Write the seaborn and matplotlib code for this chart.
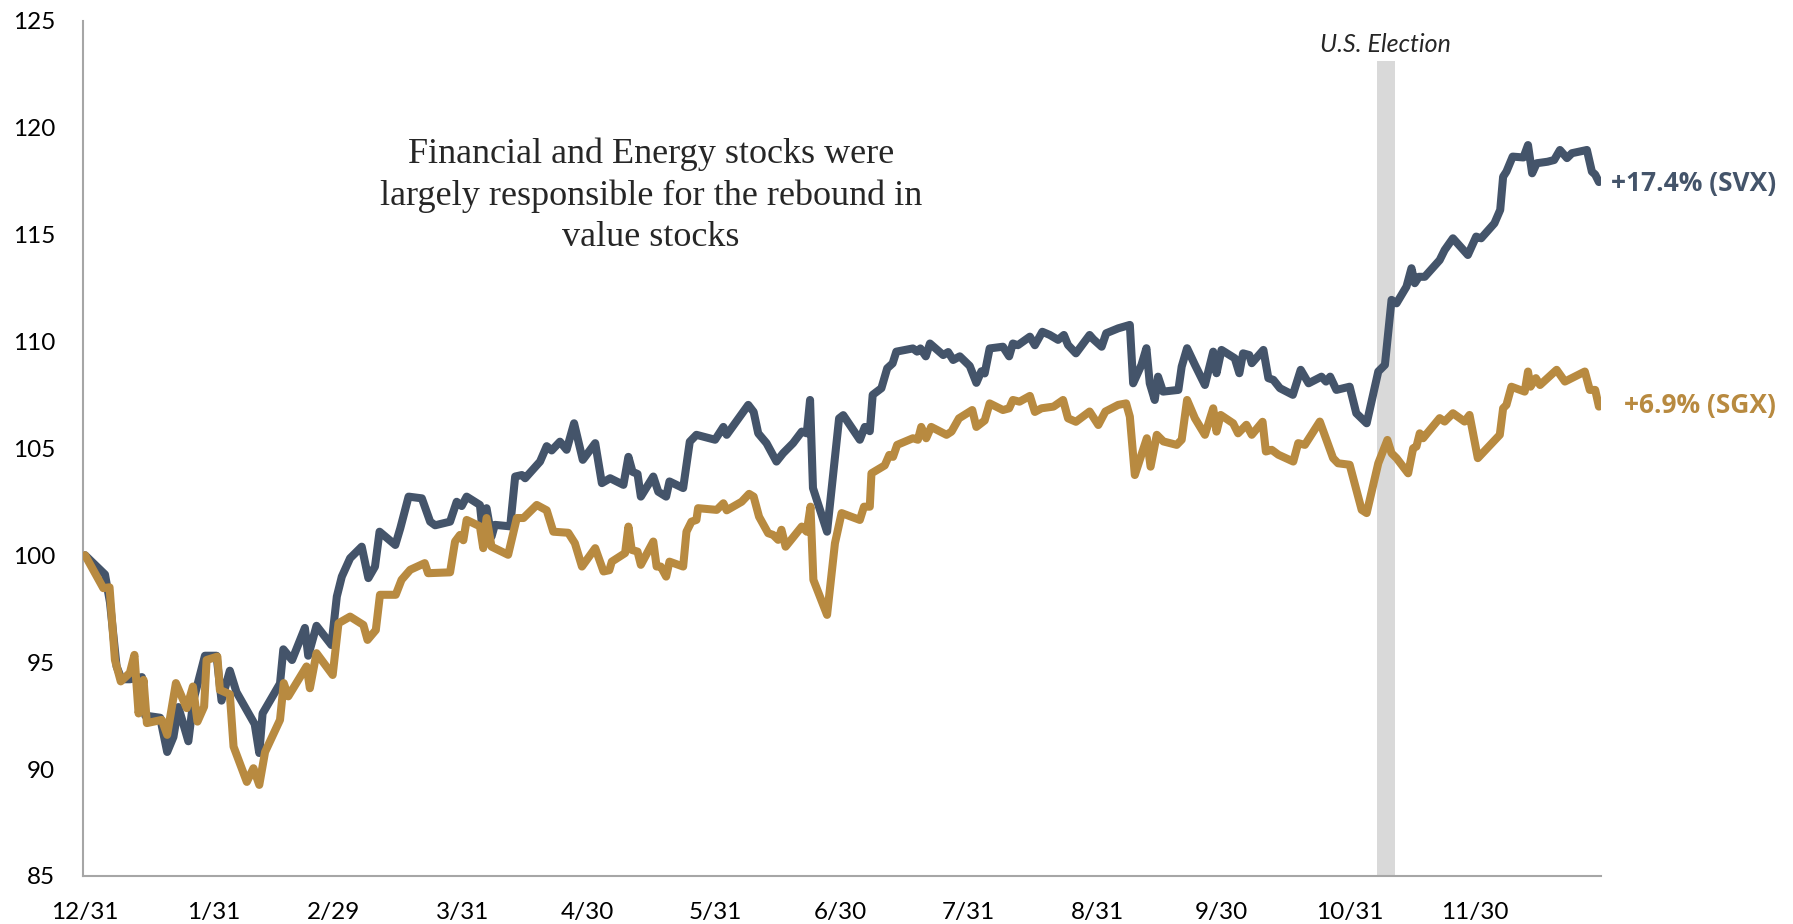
import numpy as np
import pandas as pd
import matplotlib
matplotlib.use("Agg")
import matplotlib.pyplot as plt
import seaborn as sns

# ---------------- data (day offset from 2015-12-31, index level) ----------------
svx_days = [0, 4.8, 6.0, 7.6, 8.8, 10.8, 13.7, 14.5, 18.1, 19.8, 21.3, 22.5, 24.9, 26.1, 28.9, 31.7,
            32.9, 34.9, 36.5, 40.9, 42.0, 42.8, 47.0, 47.8, 49.9, 53.0, 53.8, 55.8, 59.4, 60.7, 61.9,
            63.9, 66.7, 68.3, 69.9, 71.0, 74.8, 76.0, 78.0, 81.2, 83.2, 84.4, 88.0, 89.6, 90.8, 92.0,
            95.2, 96.0, 96.8, 98.0, 98.8, 102.5, 103.7, 105.3, 106.1, 109.7, 111.3, 112.5, 114.5, 116.1,
            117.9, 120.0, 123.0, 124.6, 126.6, 129.8, 131.0, 132.0, 133.2, 134.0, 137.0, 138.2, 140.1,
            140.9, 144.2, 145.8, 147.4, 151.9, 153.9, 154.7, 159.9, 161.2, 162.3, 164.3, 166.7, 168.3,
            170.7, 172.8, 174.0, 174.8, 175.5, 178.9, 181.8, 182.8, 186.8, 188.0, 189.2, 189.9, 192.0,
            193.4, 194.7, 195.6, 199.6, 200.6, 201.4, 202.7, 203.7, 206.9, 208.1, 209.3, 210.9, 213.3,
            214.9, 216.1, 216.9, 218.1, 221.3, 222.8, 223.7, 224.9, 227.8, 229.0, 230.8, 232.6, 234.6,
            236.0, 237.0, 238.9, 242.2, 243.1, 245.1, 246.2, 249.1, 251.9, 252.7, 254.7, 255.9, 256.7,
            257.9, 258.7, 259.9, 263.6, 264.4, 265.7, 267.6, 270.0, 272.0, 272.8, 274.0, 277.2, 278.3,
            279.2, 280.7, 281.3, 284.1, 285.3, 286.5, 288.1, 291.2, 293.1, 295.0, 298.1, 299.2, 300.2,
            301.7, 304.9, 306.5, 309.0, 311.8, 313.4, 315.0, 316.2, 318.6, 319.8, 320.6, 321.6, 323.0,
            326.6, 327.8, 329.8, 333.4, 335.4, 336.6, 339.8, 341.2, 341.9, 342.7, 344.2, 346.8, 347.9,
            348.9, 350.0, 352.6, 354.2, 355.6, 357.3, 358.5, 362.1, 363.3, 364.1, 365.0]
svx_vals = [100.0, 99.1, 97.8, 94.8, 94.2, 94.2, 94.3, 92.5, 92.4, 90.8, 91.5, 92.9, 91.3, 93.2, 95.3, 95.3,
            93.2, 94.6, 93.6, 92.1, 90.75, 92.6, 94.0, 95.6, 95.1, 96.6, 95.3, 96.7, 95.8, 98.07, 99.0,
            99.86, 100.4, 98.93, 99.47, 101.1, 100.48, 101.26, 102.74, 102.66, 101.57, 101.4, 101.57, 102.5, 102.3, 102.74,
            102.35, 100.87, 102.2, 100.87, 101.42, 101.35, 103.68, 103.75, 103.6, 104.38, 105.1, 104.9, 105.31, 104.93,
            106.17, 104.46, 105.24, 103.37, 103.6, 103.29, 104.6, 103.9, 103.8, 102.74, 103.68, 102.97, 102.74,
            103.45, 103.14, 105.31, 105.63, 105.4, 106.0, 105.63, 107.03, 106.7, 105.7, 105.24, 104.38, 104.77,
            105.24, 105.78, 105.7, 107.26, 103.14, 101.1, 106.4, 106.55, 105.4, 106.0, 105.8, 107.5, 107.81,
            108.74, 108.97, 109.52, 109.67, 109.52, 109.67, 109.3, 109.9, 109.36, 109.5, 109.13, 109.3, 108.85,
            108.06, 108.6, 108.5, 109.67, 109.75, 109.3, 109.9, 109.82, 110.22, 109.82, 110.45, 110.3, 110.07,
            110.3, 109.83, 109.44, 110.3, 110.1, 109.75, 110.38, 110.61, 110.77, 108.04, 108.9, 109.68, 108.04,
            107.26, 108.35, 107.65, 107.73, 108.82, 109.68, 108.9, 107.96, 109.52, 108.51, 109.6, 109.21, 108.51,
            109.44, 109.36, 108.98, 109.6, 108.28, 108.2, 107.81, 107.5, 108.67, 108.04, 108.35, 108.12, 108.35,
            107.73, 107.88, 106.64, 106.17, 108.59, 108.9, 111.94, 111.78, 112.56, 113.42, 112.72, 113.02, 113.02,
            113.8, 114.27, 114.82, 114.04, 114.9, 114.82, 115.52, 116.15, 117.7, 117.94, 118.64, 118.6, 119.18,
            117.86, 118.33, 118.4, 118.48, 118.95, 118.57, 118.8, 118.95, 117.94, 117.8, 117.45]

sgx_days = [0, 4.4, 5.9, 7.2, 8.6, 10.8, 11.9, 12.9, 14.1, 14.9, 18.5, 19.8, 21.9, 24.5, 26.0, 27.1, 28.7,
            29.3, 31.9, 32.5, 34.9, 35.8, 39.0, 40.6, 42.0, 43.4, 47.0, 47.9, 49.0, 53.4, 54.2, 55.8, 59.7,
            61.1, 63.9, 67.1, 68.1, 70.1, 71.1, 74.9, 76.3, 78.4, 81.9, 82.7, 88.0, 89.2, 90.4, 91.2, 92.0,
            95.2, 96.0, 96.8, 98.0, 102.0, 104.1, 105.7, 108.9, 111.3, 112.9, 116.5, 118.1, 119.8, 123.0,
            125.0, 126.4, 127.0, 130.2, 131.0, 131.8, 133.2, 134.0, 137.0, 137.8, 138.8, 140.1, 140.9, 144.2,
            145.0, 146.2, 147.4, 147.8, 152.3, 153.9, 154.7, 158.3, 160.1, 161.2, 162.5, 164.7, 165.9, 167.1,
            167.9, 168.9, 172.8, 174.0, 174.9, 175.6, 178.9, 180.8, 182.4, 186.8, 187.8, 189.2, 189.6, 192.8,
            193.9, 194.8, 195.8, 199.6, 200.8, 201.6, 202.8, 204.0, 207.7, 208.9, 210.7, 213.9, 214.9, 216.9,
            218.1, 221.3, 222.8, 223.7, 225.3, 227.8, 229.0, 230.6, 233.5, 235.8, 237.0, 238.9, 242.2, 244.3,
            246.0, 249.1, 251.0, 251.9, 253.1, 256.0, 256.9, 258.4, 260.0, 263.2, 264.4, 265.7, 267.6, 270.0,
            272.0, 272.8, 273.8, 276.8, 278.0, 280.0, 281.3, 283.9, 284.7, 286.1, 287.7, 291.3, 292.5, 294.1,
            297.7, 300.9, 302.1, 304.9, 307.8, 309.0, 311.8, 314.0, 315.0, 316.2, 319.0, 320.2, 321.0, 321.8,
            322.6, 326.6, 327.8, 329.8, 332.6, 333.8, 335.8, 341.1, 341.9, 342.7, 343.9, 347.1, 347.9, 348.5,
            349.8, 350.8, 354.8, 356.8, 361.6, 362.8, 364.1, 365.0]
sgx_vals = [100.0, 98.46, 98.5, 95.1, 94.1, 94.5, 95.34, 92.6, 94.17, 92.15, 92.3, 91.6, 94.02, 92.85, 93.86, 92.22, 92.92,
            95.1, 95.26, 93.7, 93.5, 91.05, 89.4, 90.04, 89.26, 90.8, 92.3, 94.02, 93.4, 94.8, 93.78, 95.42, 94.4,
            96.82, 97.13, 96.74, 96.04, 96.5, 98.15, 98.15, 98.85, 99.32, 99.63, 99.16, 99.2, 100.64, 100.95, 100.7, 101.65,
            101.35, 100.33, 101.74, 100.4, 100.02, 101.74, 101.74, 102.35, 102.1, 101.1, 101.05, 100.56, 99.47, 100.33,
            99.24, 99.3, 99.7, 100.1, 101.34, 100.25, 100.17, 99.55, 100.64, 99.47, 99.47, 99.0, 99.7, 99.47,
            101.1, 101.57, 101.65, 102.2, 102.12, 102.43, 102.1, 102.5, 102.87, 102.74, 101.8, 101.03, 100.95, 100.72,
            101.19, 100.4, 101.34, 101.1, 102.27, 98.85, 97.21, 100.56, 101.97, 101.65, 102.27, 102.27, 103.83, 104.2,
            104.69, 104.6, 105.16, 105.47, 105.4, 106.0, 105.47, 106.0, 105.63, 105.78, 106.4, 106.79, 106.0, 106.3,
            107.1, 106.79, 106.87, 107.26, 107.18, 107.45, 106.7, 106.87, 106.95, 107.26, 106.4, 106.24, 106.72, 106.09,
            106.72, 107.03, 107.1, 106.48, 103.75, 105.47, 104.14, 105.63, 105.32, 105.16, 105.4, 107.26, 106.4, 105.63,
            106.87, 105.78, 106.56, 106.17, 105.7, 106.1, 105.63, 106.24, 104.85, 104.93, 104.7, 104.38, 105.24, 105.16,
            106.25, 104.54, 104.3, 104.23, 102.12, 101.97, 104.3, 105.39, 104.77, 104.54, 103.83, 105.0, 105.08, 105.7,
            105.47, 106.41, 106.25, 106.64, 106.25, 106.56, 104.54, 105.63, 106.87, 107.03, 107.88, 107.65, 108.59, 107.88,
            108.28, 107.96, 108.67, 108.12, 108.59, 107.73, 107.73, 106.95]

tick_dates = ["2015-12-31", "2016-01-31", "2016-02-29", "2016-03-31", "2016-04-30", "2016-05-31",
              "2016-06-30", "2016-07-31", "2016-08-31", "2016-09-30", "2016-10-31", "2016-11-30"]
tick_labels = ["12/31", "1/31", "2/29", "3/31", "4/30", "5/31", "6/30", "7/31", "8/31", "9/30", "10/31", "11/30"]
y_ticks = [85, 90, 95, 100, 105, 110, 115, 120, 125]

svx_label = "+17.4% (SVX)"
sgx_label = "+6.9% (SGX)"
election_label = "U.S. Election"
election_start, election_end = "2016-11-06 12:00", "2016-11-10 18:00"
note = "Financial and Energy stocks were\nlargely responsible for the rebound in\nvalue stocks"

BLUE = "#44546A"
GOLD = "#B88A40"

# ---------------- build frames ----------------
base = pd.Timestamp("2015-12-31")
svx = pd.DataFrame({"date": base + pd.to_timedelta(np.array(svx_days), unit="D"), "value": svx_vals})
sgx = pd.DataFrame({"date": base + pd.to_timedelta(np.array(sgx_days), unit="D"), "value": sgx_vals})

sns.set_style("white")
plt.rcParams["font.family"] = ["Lato", "DejaVu Sans"]

W, H = 1793, 924
fig = plt.figure(figsize=(W / 100, H / 100), dpi=100)
ax = fig.add_axes([83 / W, 1 - 876 / H, (1601 - 83) / W, (876 - 20.6) / H])

ax.axvspan(pd.Timestamp(election_start), pd.Timestamp(election_end), ymin=0, ymax=(876 - 61) / (876 - 20.6),
           color="#D9D9D9", lw=0, zorder=0)

sns.lineplot(data=sgx, x="date", y="value", ax=ax, color=GOLD, lw=5.8, estimator=None, sort=False,
             solid_joinstyle="round", solid_capstyle="round", zorder=3)
sns.lineplot(data=svx, x="date", y="value", ax=ax, color=BLUE, lw=5.8, estimator=None, sort=False,
             solid_joinstyle="round", solid_capstyle="round", zorder=2)

ax.set_xlim(base - pd.Timedelta(hours=12), base + pd.Timedelta(days=365.5))
ax.set_ylim(85, 125)
ax.set_yticks(y_ticks)
ax.set_yticklabels([str(v) for v in y_ticks])
ax.set_xticks(pd.to_datetime(tick_dates))
ax.set_xticklabels(tick_labels)
ax.set_xlabel("")
ax.set_ylabel("")
ax.tick_params(axis="both", length=0, labelsize=17.5, colors="black")
ax.tick_params(axis="y", pad=20)
ax.tick_params(axis="x", pad=19)
for s in ["top", "right"]:
    ax.spines[s].set_visible(False)
for s in ["left", "bottom"]:
    ax.spines[s].set_color("#A6A6A6")
    ax.spines[s].set_linewidth(1.5)
ax.grid(False)

fig.text(1776 / W, 1 - 183 / H, svx_label, color=BLUE, fontsize=19, fontweight="bold",
         ha="right", va="center", family=["Open Sans", "DejaVu Sans"])
fig.text(1776 / W, 1 - 406 / H, sgx_label, color=GOLD, fontsize=19, fontweight="bold",
         ha="right", va="center", family=["Open Sans", "DejaVu Sans"])
fig.text(1385 / W, 1 - 45 / H, election_label, fontsize=18, style="italic", ha="center", va="center")
fig.text(651 / W, 1 - 196 / H, note, fontsize=26, ha="center", va="center", linespacing=1.32,
         family=["Liberation Serif", "DejaVu Serif"])

fig.savefig("out.png", dpi=100)
